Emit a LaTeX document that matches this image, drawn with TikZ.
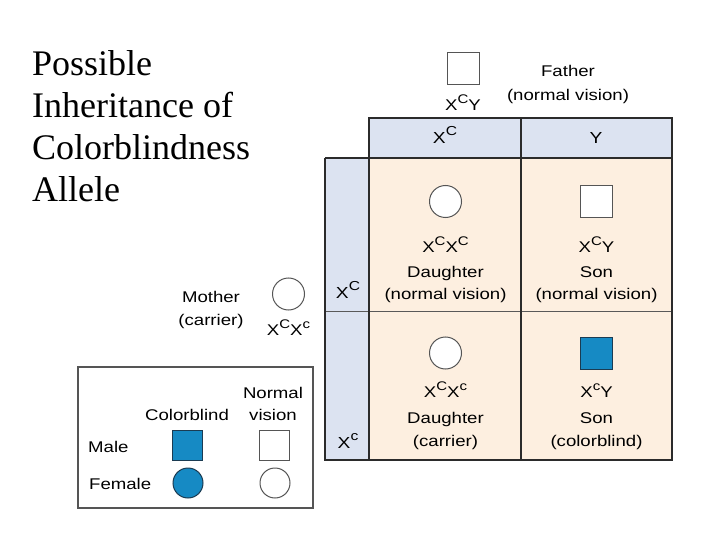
\documentclass[tikz,border=0pt]{standalone}
\usepackage{fontspec}
\setmainfont{Liberation Sans}[FakeStretch=1.2]
\newfontfamily\titlefont{Liberation Serif}
\definecolor{hdrblue}{HTML}{DCE3F1}
\definecolor{peach}{HTML}{FDEFE0}
\definecolor{cbblue}{HTML}{168AC4}
\definecolor{cbedge}{HTML}{1B3B52}
\definecolor{gridc}{HTML}{2B2B2B}
\definecolor{shapeedge}{HTML}{555555}
\newcommand\supr[1]{\raisebox{7pt}{\fontsize{12.5}{12.5}\selectfont #1}}
\newcommand\suprh[1]{\raisebox{8pt}{\fontsize{13}{13}\selectfont #1}}
\tikzset{
  titletxt/.style={font=\titlefont\fontsize{36}{42}\selectfont, inner sep=0, anchor=base west},
  txt/.style={font=\fontsize{15.5}{18}\selectfont, inner sep=0, anchor=base},
  gene/.style={font=\fontsize{15.5}{18}\selectfont, inner sep=0, anchor=base},
  hdrtxt/.style={font=\fontsize{16}{18}\selectfont, inner sep=0, anchor=base},
  femwhite/.style={circle, draw=shapeedge, line width=1pt, fill=white, minimum size=32pt, inner sep=0},
  malewhite/.style={rectangle, draw=shapeedge, line width=1pt, fill=white, minimum size=32pt, inner sep=0},
  maleblue/.style={rectangle, draw=cbedge, line width=1pt, fill=cbblue, minimum size=32pt, inner sep=0},
  femblue/.style={circle, draw=cbedge, line width=1pt, fill=cbblue, minimum size=30pt, inner sep=0},
  outerline/.style={draw=gridc, line width=2.2pt},
  innerline/.style={draw=gridc, line width=1.5pt},
}
\begin{document}
\begin{tikzpicture}[x=1pt,y=-1pt]
\useasboundingbox (0,0) rectangle (720,540);
\fill[white] (0,0) rectangle (720,540);

% title
\node[titletxt] (t1) at (32,76) {Possible};
\node[titletxt] (t2) at (32,118) {Inheritance of};
\node[titletxt] (t3) at (32,160) {Colorblindness};
\node[titletxt] (t4) at (32,202) {Allele};

% Punnett square backgrounds
\fill[hdrblue] (369,118) rectangle (672,158);
\fill[hdrblue] (325,158) rectangle (369,460);
\fill[peach] (369,158) rectangle (672,460);
\draw[draw=gray!70!black, line width=0.9pt] (325,311) -- (672,311);
\draw[draw=gridc, line width=1.2pt] (325,158) -- (325,460);
\draw[outerline] (369,118) rectangle (672,460);
\draw[outerline] (325,158) -- (672,158);
\draw[outerline] (324,460) -- (672,460);
\draw[innerline] (521,118) -- (521,460);

% father
\node[malewhite] (father) at (463,69) {};
\node[gene] (fatherg) at (463,111) {X\supr{C}Y};
\node[txt] (fatherl1) at (568,77) {Father};
\node[txt] (fatherl2) at (568,101) {(normal vision)};

% header
\node[hdrtxt] (h1) at (445,144) {X\suprh{C}};
\node[hdrtxt] (h2) at (596,144) {Y};

% left column
\node[hdrtxt] (v1) at (348,298) {X\suprh{C}};
\node[hdrtxt] (v2) at (348,448) {X\suprh{c}};

% cell 1
\node[femwhite] (c1) at (445.5,201.5) {};
\node[gene] (c1g) at (445.5,252) {X\supr{C}X\supr{C}};
\node[txt] (c1a) at (445.5,277) {Daughter};
\node[txt] (c1b) at (445.5,299) {(normal vision)};

% cell 2
\node[malewhite] (c2) at (596.5,201.5) {};
\node[gene] (c2g) at (596.5,252) {X\supr{C}Y};
\node[txt] (c2a) at (596.5,277) {Son};
\node[txt] (c2b) at (596.5,299) {(normal vision)};

% cell 3
\node[femwhite] (c3) at (445.5,353) {};
\node[gene] (c3g) at (445.5,397) {X\supr{C}X\supr{c}};
\node[txt] (c3a) at (445.5,423) {Daughter};
\node[txt] (c3b) at (445.5,446) {(carrier)};

% cell 4
\node[maleblue] (c4) at (596.5,353) {};
\node[gene] (c4g) at (596.5,397) {X\supr{c}Y};
\node[txt] (c4a) at (596.5,423) {Son};
\node[txt] (c4b) at (596.5,446) {(colorblind)};

% mother
\node[femwhite] (mother) at (288.5,294) {};
\node[txt] (motherl1) at (211,302) {Mother};
\node[txt] (motherl2) at (211,325) {(carrier)};
\node[gene] (motherg) at (288.5,335) {X\supr{C}X\supr{c}};

% legend
\draw[draw=shapeedge, line width=1.2pt] (78,367) rectangle (313,508);
\node[txt] (lnorm1) at (273,398) {Normal};
\node[txt] (lnorm2) at (273,420) {vision};
\node[txt] (lcb) at (187,420) {Colorblind};
\node[txt, anchor=base west] (lmale) at (88,452) {Male};
\node[txt, anchor=base west] (lfem) at (89,489) {Female};
\node[maleblue, minimum size=30pt] (lmb) at (187.5,445) {};
\node[malewhite, minimum size=30pt] (lmw) at (274.5,445) {};
\node[femblue] (lfb) at (188,483) {};
\node[femwhite, minimum size=30pt] (lfw) at (275,483) {};
\end{tikzpicture}
\end{document}
